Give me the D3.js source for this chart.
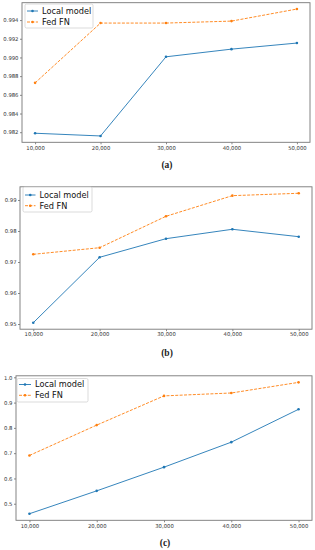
<!DOCTYPE html>
<html>
<head>
<meta charset="utf-8">
<script src="https://cdn.jsdelivr.net/npm/d3@7"></script>
<style>
html,body{margin:0;padding:0;background:#fff;}
svg{display:block;}
</style>
</head>
<body>
<svg id="chart" width="315" height="550"></svg>
<script>
// ---- data ----
const categories = [10000, 20000, 30000, 40000, 50000];
const seriesNames = ["Local model", "Fed FN"];
const localA = [0.98189, 0.98160, 0.99007, 0.99089, 0.99154];
const fedA   = [0.98728, 0.99368, 0.99368, 0.99389, 0.99518];
const localB = [0.95042, 0.97152, 0.97752, 0.98055, 0.97816];
const fedB   = [0.97248, 0.97461, 0.98474, 0.99139, 0.99216];
const localC = [0.4605, 0.5510, 0.6447, 0.7435, 0.8735];
const fedC   = [0.6910, 0.8110, 0.9265, 0.9380, 0.9800];
const ticksA = [0.982, 0.984, 0.986, 0.988, 0.990, 0.992, 0.994];
const ticksB = [0.95, 0.96, 0.97, 0.98, 0.99];
const ticksC = [0.5, 0.6, 0.7, 0.8, 0.9, 1.0];
const captions = ["(a)", "(b)", "(c)"];

// ---- layout ----
const panels = [
  {local: localA, fed: fedA, ticks: ticksA, fmt: ".3f", caption: captions[0],
   x0: 22, x1: 310, y0: 2.7, y1: 142.3, capY: 168,
   leg: {x: 25, y: 4, w: 68, h: 24, r1: 11, r2: 22, tx: 42}},
  {local: localB, fed: fedB, ticks: ticksB, fmt: ".2f", caption: captions[1],
   x0: 20, x1: 312, y0: 186.8, y1: 329.2, capY: 356,
   leg: {x: 23, y: 187, w: 69, h: 25, r1: 195, r2: 205.7, tx: 39.5}},
  {local: localC, fed: fedC, ticks: ticksC, fmt: ".1f", caption: captions[2],
   x0: 16, x1: 312, y0: 375.8, y1: 520.3, capY: 546,
   leg: {x: 17, y: 378.5, w: 71, h: 23.5, r1: 384.5, r2: 395.3, tx: 35}}
];
const colors = ["#1f77b4", "#ff7f0e"];
const svg = d3.select("#chart");

panels.forEach(p => {
  const xmin = d3.min(categories), xmax = d3.max(categories);
  const xm = (xmax - xmin) * 0.05;
  const x = d3.scaleLinear().domain([xmin - xm, xmax + xm]).range([p.x0, p.x1]);
  const all = p.local.concat(p.fed);
  const ymin = d3.min(all), ymax = d3.max(all);
  const ym = (ymax - ymin) * 0.05;
  const y = d3.scaleLinear().domain([ymin - ym, ymax + ym]).range([p.y1, p.y0]);

  const g = svg.append("g");

  // axes
  const xAxis = d3.axisBottom(x).tickValues(categories).tickFormat(d3.format(",")).tickSize(2).tickPadding(1.5);
  const yAxis = d3.axisLeft(y).tickValues(p.ticks).tickFormat(d3.format(p.fmt)).tickSize(2).tickPadding(1.5);
  const gx = g.append("g").attr("transform", `translate(0,${p.y1})`).call(xAxis);
  const gy = g.append("g").attr("transform", `translate(${p.x0},0)`).call(yAxis);
  [gx, gy].forEach(a => {
    a.select(".domain").remove();
    a.selectAll("line").attr("stroke", "#555").attr("stroke-width", 0.7);
    a.selectAll("text").attr("fill", "#333").style("font-family", "DejaVu Sans").style("font-size", "5.3px");
  });

  // frame
  g.append("rect").attr("x", p.x0).attr("y", p.y0)
    .attr("width", p.x1 - p.x0).attr("height", p.y1 - p.y0)
    .attr("fill", "none").attr("stroke", "#777").attr("stroke-width", 0.9);

  // lines
  const line = d3.line().x((d, i) => x(categories[i])).y(d => y(d));
  [p.local, p.fed].forEach((s, k) => {
    g.append("path").datum(s).attr("d", line).attr("fill", "none")
      .attr("stroke", colors[k]).attr("stroke-width", 0.9)
      .attr("stroke-dasharray", k === 1 ? "3,1.4" : null);
    g.selectAll(null).data(s).enter().append("circle")
      .attr("cx", (d, i) => x(categories[i])).attr("cy", d => y(d))
      .attr("r", 1.3).attr("fill", colors[k]);
  });

  // legend
  const L = p.leg;
  g.append("rect").attr("x", L.x).attr("y", L.y).attr("width", L.w).attr("height", L.h)
    .attr("rx", 1.5).attr("fill", "#fff").attr("fill-opacity", 0.85)
    .attr("stroke", "#ccc").attr("stroke-width", 0.7);
  [L.r1, L.r2].forEach((ry, k) => {
    const hx0 = L.x + 2, hx1 = L.tx - 4;
    g.append("line").attr("x1", hx0).attr("x2", hx1).attr("y1", ry).attr("y2", ry)
      .attr("stroke", colors[k]).attr("stroke-width", 0.9)
      .attr("stroke-dasharray", k === 1 ? "3,1.4" : null);
    g.append("circle").attr("cx", (hx0 + hx1) / 2).attr("cy", ry).attr("r", 1.3).attr("fill", colors[k]);
    g.append("text").attr("x", L.tx).attr("y", ry).attr("dy", "0.35em")
      .style("font-family", "DejaVu Sans").style("font-size", "8.2px").attr("fill", "#111")
      .text(seriesNames[k]);
  });

  // caption
  g.append("text").attr("x", (p.x0 + p.x1) / 2 + 1).attr("y", p.capY)
    .attr("text-anchor", "middle")
    .style("font-family", "Liberation Serif").style("font-size", "9.5px").style("font-weight", "bold")
    .attr("fill", "#222").text(p.caption);
});
</script>
</body>
</html>
